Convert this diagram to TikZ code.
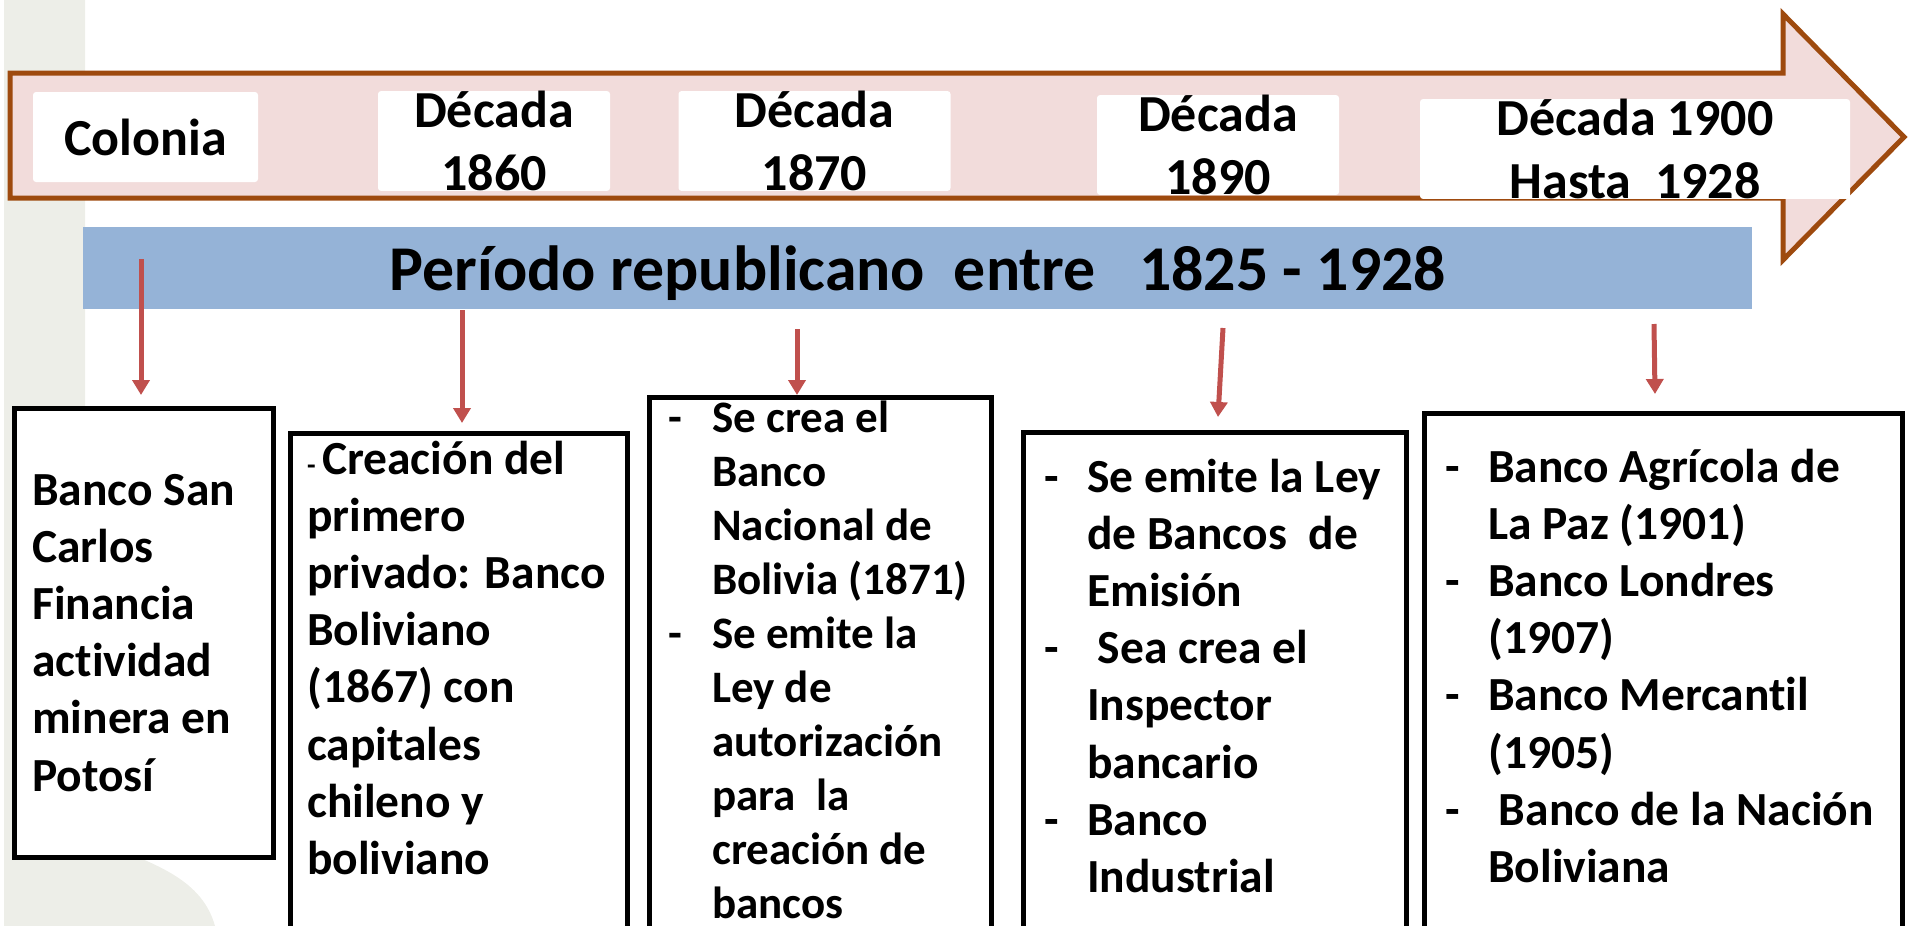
\documentclass[tikz,border=0pt]{standalone}
\usepackage{fontspec}
\setmainfont{Carlito}[Ligatures={NoCommon}]
\usetikzlibrary{arrows.meta}
\definecolor{brownline}{RGB}{158,74,14}
\definecolor{pinkfill}{RGB}{242,220,219}
\definecolor{bluebar}{RGB}{149,179,215}
\definecolor{redarr}{RGB}{192,80,77}
\definecolor{graybg}{RGB}{237,238,232}
\tikzset{
  lbl/.style={fill=white, rounded corners=3pt, inner sep=0pt, align=center,
    font=\fontsize{52}{63}\selectfont\bfseries},
  evbox/.style={draw=black, line width=5pt, fill=white, anchor=north west, inner sep=0pt},
  evtext/.style={anchor=base west, inner sep=0pt, font=\fontsize{47.5}{57.2}\selectfont\bfseries},
  evtextsm/.style={anchor=base west, inner sep=0pt, font=\fontsize{45}{54.1}\selectfont\bfseries},
  downarr/.style={draw=redarr, line width=5pt, -{Triangle[width=17pt,length=15pt]}},
}
\newcommand{\dsh}[1]{\makebox[#1][l]{-}}
\begin{document}
\begin{tikzpicture}[x=1pt,y=-1pt]
\useasboundingbox (0,0) rectangle (1912,926);
\clip (0,0) rectangle (1912,926);
% background strip
\fill[graybg] (4,0) -- (85,0) -- (85,800) .. controls (90,850) and (110,848) .. (140,858)
  .. controls (175,873) and (205,890) .. (215,926) -- (4,926) -- cycle;
% big arrow
\draw[brownline, line width=5pt, fill=pinkfill, line join=miter]
  (10,73) -- (1783,73) -- (1783,14) -- (1904,137) -- (1783,260) -- (1783,198) -- (10,198) -- cycle;
% labels
\node[lbl, minimum width=225pt, minimum height=90pt] (lcol) at (145.5,137) {Colonia};
\node[lbl, minimum width=232pt, minimum height=97pt] (l1860) at (494,141) {Década\\1860};
\node[lbl, minimum width=272pt, minimum height=97pt] (l1870) at (814.5,141) {Década\\1870};
\node[lbl, minimum width=242pt, minimum height=86pt] (l1890) at (1218,145) {Década\\1890};
\node[lbl, minimum width=430pt, minimum height=87pt] (l1900) at (1635,149) {Década 1900\\Hasta\ \ 1928};
% blue bar
\node[fill=bluebar, minimum width=1669pt, minimum height=82pt, inner sep=0pt] (bar) at (917.5,268) {};
\node[anchor=base, inner sep=0pt, font=\fontsize{63.8}{72}\selectfont\bfseries] (bartext) at (918,290)
  {Período republicano\ \ entre\ \ \ 1825 - 1928};
% boxes
\node[evbox, minimum width=259pt, minimum height=449pt] (b1) at (12,406) {};
\node[evbox, minimum width=337pt, minimum height=600pt] (b2) at (288,431) {};
\node[evbox, minimum width=342pt, minimum height=600pt] (b3) at (647,395) {};
\node[evbox, minimum width=383pt, minimum height=600pt] (b4) at (1021,430) {};
\node[evbox, minimum width=478pt, minimum height=600pt] (b5) at (1422,411) {};
% arrows
\coordinate (a1s) at (141,259); \coordinate (a1e) at (141,395);
\coordinate (a2s) at (462,310); \coordinate (a2e) at (462,423);
\coordinate (a3s) at (797,329); \coordinate (a3e) at (797,395);
\coordinate (a4s) at (1223,328); \coordinate (a4e) at (1218,417);
\coordinate (a5s) at (1654,324); \coordinate (a5e) at (1655,394);
\draw[downarr] (a1s) -- (a1e);
\draw[downarr] (a2s) -- (a2e);
\draw[downarr] (a3s) -- (a3e);
\draw[downarr] (a4s) -- (a4e);
\draw[downarr] (a5s) -- (a5e);
% texts
\node[evtext] (t1) at (32,505) {\begin{tabular}[t]{@{}l@{}}
Banco San\\ Carlos\\ Financia\\ actividad\\ minera en\\ Potosí
\end{tabular}};
\node[evtext] (t2) at (307,474) {\begin{tabular}[t]{@{}l@{}}
{\fontsize{28}{28}\selectfont -\ }Creación del\\ primero\\ privado: Banco\\ Boliviano\\ (1867) con\\ capitales\\ chileno y\\ boliviano
\end{tabular}};
\node[evtextsm] (t3) at (668,432) {\begin{tabular}[t]{@{}l@{}}
\dsh{44pt}Se crea el\\ \hspace*{44pt}Banco\\ \hspace*{44pt}Nacional de\\ \hspace*{44pt}Bolivia (1871)\\
\dsh{44pt}Se emite la\\ \hspace*{44pt}Ley de\\ \hspace*{44pt}autorización\\ \hspace*{44pt}para\ \ la\\
\hspace*{44pt}creación de\\ \hspace*{44pt}bancos
\end{tabular}};
\node[evtext] (t4) at (1044,492) {\begin{tabular}[t]{@{}l@{}}
\dsh{43pt}Se emite la Ley\\ \hspace*{43pt}de Bancos\ \ de\\ \hspace*{43pt}Emisión\\
\dsh{43pt}\ Sea crea el\\ \hspace*{43pt}Inspector\\ \hspace*{43pt}bancario\\
\dsh{43pt}Banco\\ \hspace*{43pt}Industrial
\end{tabular}};
\node[evtext] (t5) at (1445,482) {\begin{tabular}[t]{@{}l@{}}
\dsh{43pt}Banco Agrícola de\\ \hspace*{43pt}La Paz (1901)\\
\dsh{43pt}Banco Londres\\ \hspace*{43pt}(1907)\\
\dsh{43pt}Banco Mercantil\\ \hspace*{43pt}(1905)\\
\dsh{43pt}\ Banco de la Nación\\ \hspace*{43pt}Boliviana
\end{tabular}};
\end{tikzpicture}
\end{document}
